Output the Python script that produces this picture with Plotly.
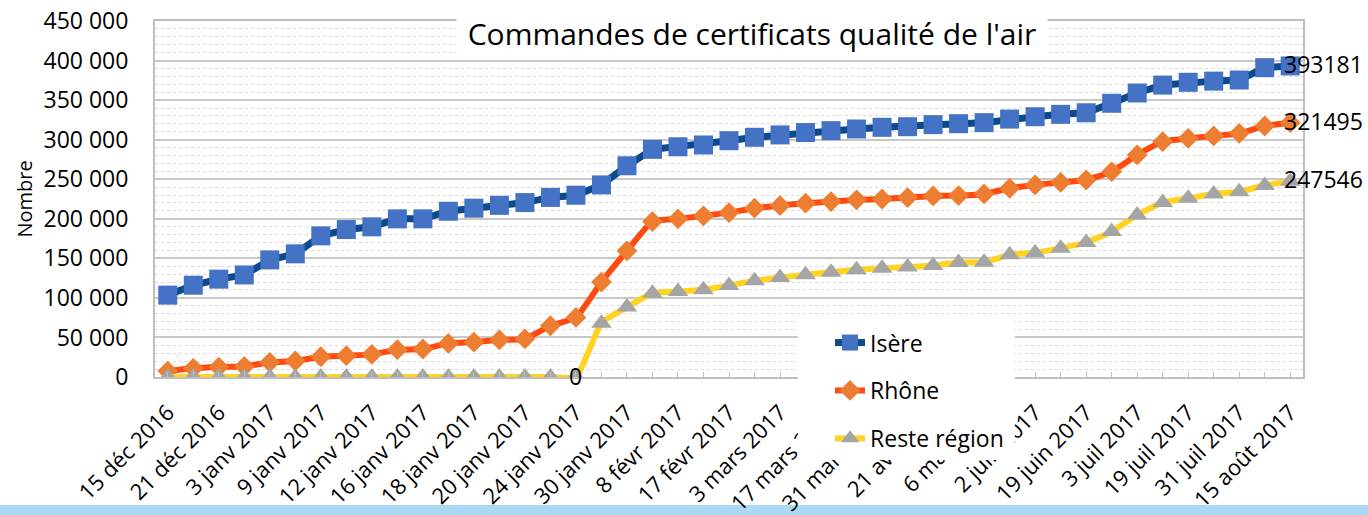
import plotly.graph_objects as go

# Cumulative orders per area, one point per reporting date (45 dates)
isere = [103500, 116000, 123700, 129000, 148000, 155700, 178400, 186400, 189800, 199900,
         199900, 209500, 213400, 217000, 220500, 227000, 229800, 242800, 267000, 287800,
         291000, 293300, 298700, 303000, 306000, 309000, 311400, 313500, 315600, 316400,
         319000, 320200, 321500, 326000, 329000, 332000, 334000, 346000, 359000, 369000,
         372500, 374000, 375400, 391000, 393181]
rhone = [7500, 11000, 12600, 13400, 18500, 20200, 25600, 26900, 28600, 34500,
         35400, 42500, 44000, 47000, 48300, 64800, 75300, 120000, 159500, 196500,
         199900, 203700, 207800, 213400, 216700, 219700, 221700, 223900, 225000, 226800,
         228900, 229300, 231400, 238600, 242800, 246000, 249000, 259600, 280700, 297500,
         301700, 304700, 308000, 317300, 321495]
reste = [0, 0, 0, 0, 0, 0, 0, 0, 0, 0,
         0, 0, 0, 0, 0, 0, 0, 68000, 88400, 106000,
         108000, 110200, 115700, 121600, 125800, 129200, 132500, 135500, 137600, 138900,
         141000, 144700, 145200, 154400, 157000, 162900, 170000, 183800, 204900, 220500,
         226000, 231400, 234300, 242000, 247546]

# Dates shown on the category axis (every other point is labelled)
date_labels = ["15 déc 2016", "21 déc 2016", "3 janv 2017", "9 janv 2017", "12 janv 2017",
               "16 janv 2017", "18 janv 2017", "20 janv 2017", "24 janv 2017", "30 janv 2017",
               "8 févr 2017", "17 févr 2017", "3 mars 2017", "17 mars 2017", "31 mars 2017",
               "21 avr 2017", "6 mai 2017", "2 juin 2017", "19 juin 2017", "3 juil 2017",
               "19 juil 2017", "31 juil 2017", "15 août 2017"]

y_ticks = [0, 50000, 100000, 150000, 200000, 250000, 300000, 350000, 400000, 450000]

x_pos = list(range(len(isere)))
tick_text = []
for i in x_pos:
    tick_text.append(date_labels[i // 2] if i % 2 == 0 else "")

FONT = "Open Sans, Noto Sans, sans-serif"

fig = go.Figure()
fig.add_trace(go.Scatter(
    x=x_pos, y=isere, name="Isère", mode="lines+markers", legendgroup="a",
    line=dict(color="#0B4A8B", width=7),
    marker=dict(symbol="square", size=19, color="#4472C4", line=dict(width=0)),
))
fig.add_trace(go.Scatter(
    x=x_pos, y=rhone, name="Rhône", mode="lines+markers", legendgroup="b",
    line=dict(color="#FF4A0F", width=6, shape="spline", smoothing=0.5),
    marker=dict(symbol="diamond", size=16, color="#ED7D31", line=dict(width=0)),
))
fig.add_trace(go.Scatter(
    x=x_pos, y=reste, name="Reste région", mode="lines+markers", legendgroup="c",
    line=dict(color="#FFD320", width=6, shape="spline", smoothing=0.5),
    marker=dict(symbol="triangle-up", size=18, color="#A5A5A5", line=dict(width=0)),
))

annotations = []
# Value labels on the last point of each series
for series in (isere, rhone, reste):
    annotations.append(dict(
        x=x_pos[-1], y=series[-1], xref="x", yref="y", text=str(series[-1]),
        showarrow=False, xanchor="left", xshift=-8, yshift=2,
        font=dict(family=FONT, size=23, color="#000000"),
    ))
# Value label where the "Reste région" series is still at zero
annotations.append(dict(
    x=x_pos[16], y=reste[16], xref="x", yref="y", text=str(reste[16]),
    showarrow=False, xanchor="center", yshift=1,
    font=dict(family=FONT, size=23, color="#000000"),
))
# Chart title on a white box over the grid
annotations.append(dict(
    x=0.52, y=0.966, xref="paper", yref="paper",
    text="Commandes de certificats qualité de l'air", showarrow=False,
    xanchor="center", yanchor="middle", bgcolor="#FFFFFF", borderpad=0,
    width=590, height=42,
    font=dict(family=FONT, size=30, color="#000000"),
))

fig.update_layout(
    width=1368, height=515,
    margin=dict(l=155, r=65, t=21, b=138, autoexpand=False),
    paper_bgcolor="#FFFFFF", plot_bgcolor="#FFFFFF",
    separators=", ",
    font=dict(family=FONT, color="#000000"),
    annotations=annotations,
    legend=dict(
        x=0.588, y=0.157, xanchor="left", yanchor="top",
        bgcolor="#FFFFFF", borderwidth=0, tracegroupgap=15,
        font=dict(family=FONT, size=23, color="#000000"),
    ),
    shapes=[
        # slide band along the bottom edge
        dict(type="rect", xref="paper", yref="paper",
             x0=-0.2, x1=1.2, y0=-0.3595, y1=-0.45,
             fillcolor="#ABD9F3", line=dict(width=0), layer="below"),
        # white backing behind the legend
        dict(type="rect", xref="paper", yref="paper",
             x0=0.560, x1=0.749, y0=-0.233, y1=0.1657,
             fillcolor="#FFFFFF", line=dict(width=0), layer="above"),
    ],
)

fig.update_xaxes(
    range=[-0.5, len(x_pos) - 0.5], automargin=False,
    tickmode="array", tickvals=x_pos, ticktext=tick_text,
    tickangle=-45, ticks="inside", ticklen=5, tickcolor="#BFBFBF",
    tickfont=dict(family=FONT, size=22, color="#000000"),
    ticklabelstandoff=12,
    showgrid=False, zeroline=False,
    showline=True, linecolor="#BFBFBF", linewidth=2, mirror=True,
)
fig.update_yaxes(
    range=[0, 450000], automargin=False,
    tickmode="array", tickvals=y_ticks, tickformat=",d",
    tickfont=dict(family=FONT, size=23, color="#000000"),
    ticklabelstandoff=20,
    showgrid=True, gridcolor="#C8C8C8", gridwidth=1.5,
    minor=dict(dtick=10000, showgrid=True, gridcolor="#DADADA", griddash="dot", gridwidth=1),
    zeroline=False,
    showline=True, linecolor="#BFBFBF", linewidth=2, mirror=True,
    title=dict(text="Nombre", font=dict(family=FONT, size=20, color="#000000"), standoff=6),
)

fig.write_html("out.html")
